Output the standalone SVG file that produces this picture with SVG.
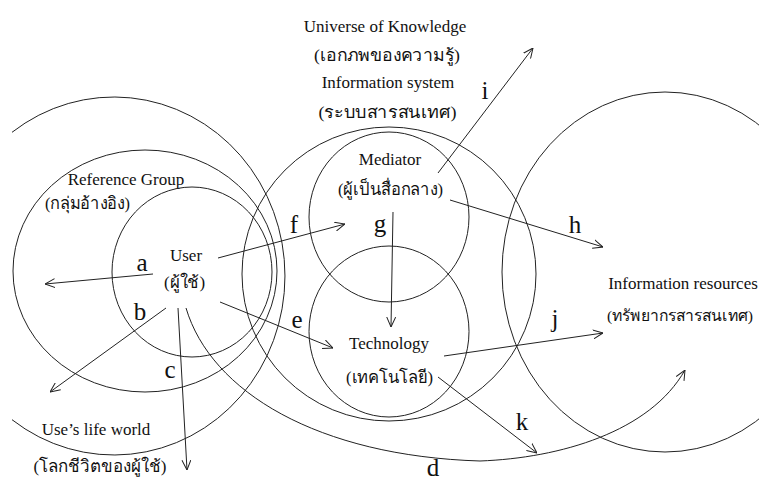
<svg xmlns="http://www.w3.org/2000/svg" width="759" height="483" viewBox="0 0 759 483">
<defs>
<style>
.c{fill:none;stroke:#222;stroke-width:1}
.l{fill:none;stroke:#222;stroke-width:1;marker-end:url(#ah)}
.tx{fill:#111;text-anchor:middle;font-family:'Liberation Serif','Times New Roman',serif}
.t{font-size:17px}
.k{font-size:25px}
</style>
<marker id="ah" viewBox="0 0 10 10" refX="10" refY="5" markerWidth="10" markerHeight="10" markerUnits="userSpaceOnUse" orient="auto">
<path d="M0,0.5 L10,5 L0,9.5" fill="none" stroke="#222" stroke-width="1"/>
</marker>
</defs>
<rect width="759" height="483" fill="#fff"/>
<g id="universe" class="tx">
<text class="t" x="385" y="31.5">Universe of Knowledge</text>
<text class="t" x="387" y="61" textLength="146" lengthAdjust="spacingAndGlyphs">(เอกภพของความรู้)</text>
</g>
<g id="lifeworld">
<path class="c" d="M12,132.3 A171,179 0 1 1 12,419.7"/>
<g class="tx">
<text class="t" x="96" y="435">Use’s life world</text>
<text class="t" x="100" y="472" textLength="133" lengthAdjust="spacingAndGlyphs">(โลกชีวิตของผู้ใช้)</text>
</g>
</g>
<g id="reference-group">
<ellipse class="c" cx="145" cy="271" rx="132" ry="121"/>
<g class="tx">
<text class="t" x="126" y="185">Reference Group</text>
<text class="t" x="87.5" y="209" textLength="85" lengthAdjust="spacingAndGlyphs">(กลุ่มอ้างอิง)</text>
</g>
</g>
<g id="user">
<ellipse class="c" cx="192" cy="272" rx="80" ry="85"/>
<g class="tx">
<text class="t" x="186" y="261">User</text>
<text class="t" x="184.5" y="288" textLength="41" lengthAdjust="spacingAndGlyphs">(ผู้ใช้)</text>
</g>
</g>
<g id="information-system">
<circle class="c" cx="389" cy="274" r="147"/>
<g class="tx">
<text class="t" x="388" y="87.5">Information system</text>
<text class="t" x="387.5" y="118" textLength="138" lengthAdjust="spacingAndGlyphs">(ระบบสารสนเทศ)</text>
</g>
</g>
<g id="mediator">
<ellipse class="c" cx="389" cy="217" rx="80" ry="85"/>
<g class="tx">
<text class="t" x="390" y="165">Mediator</text>
<text class="t" x="390.5" y="195" textLength="105" lengthAdjust="spacingAndGlyphs">(ผู้เป็นสื่อกลาง)</text>
</g>
</g>
<g id="technology">
<ellipse class="c" cx="389" cy="331.5" rx="80" ry="85.5"/>
<g class="tx">
<text class="t" x="389" y="349">Technology</text>
<text class="t" x="389.5" y="383" textLength="87" lengthAdjust="spacingAndGlyphs">(เทคโนโลยี)</text>
</g>
</g>
<g id="information-resources">
<ellipse class="c" cx="665" cy="272" rx="163" ry="180"/>
<g class="tx">
<text class="t" x="683" y="289">Information resources</text>
<text x="680" y="321" font-size="15.5" textLength="146" lengthAdjust="spacingAndGlyphs">(ทรัพยากรสารสนเทศ)</text>
</g>
</g>
<g id="connectors">
<line class="l" x1="153" y1="274" x2="45" y2="284"/>
<line class="l" x1="166" y1="308" x2="50" y2="392"/>
<line class="l" x1="178" y1="308" x2="187" y2="470"/>
<path class="l" d="M186,308 C211,392 318,456 480,461 C560,458 650,432 685,370"/>
<line class="l" x1="220" y1="302" x2="333" y2="348"/>
<line class="l" x1="218" y1="258" x2="345" y2="224"/>
<line class="l" x1="393" y1="212" x2="391" y2="327"/>
<line class="l" x1="450" y1="200" x2="603" y2="247"/>
<line class="l" x1="438" y1="173" x2="533" y2="48"/>
<line class="l" x1="444" y1="356" x2="603" y2="333"/>
<line class="l" x1="438" y1="377" x2="537" y2="453"/>
<g class="tx">
<text class="k" x="142" y="271">a</text>
<text class="k" x="140" y="320">b</text>
<text class="k" x="170" y="378">c</text>
<text class="k" x="433" y="476">d</text>
<text class="k" x="297" y="328">e</text>
<text class="k" x="294" y="233">f</text>
<text class="k" x="380" y="232">g</text>
<text class="k" x="575" y="233">h</text>
<text class="k" x="485" y="99">i</text>
<text class="k" x="555" y="327">j</text>
<text class="k" x="522" y="430">k</text>
</g>
</g>
</svg>
